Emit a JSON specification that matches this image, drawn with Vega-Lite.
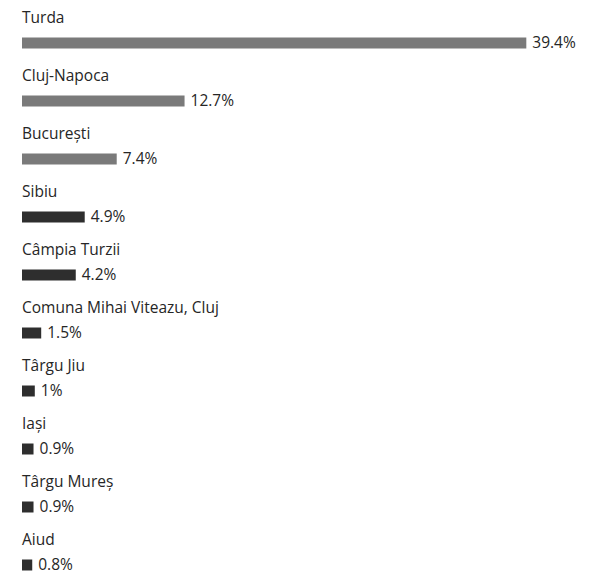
{
  "$schema": "https://vega.github.io/schema/vega-lite/v6.json",
  "width": 576,
  "height": 580,
  "autosize": {"type": "none"},
  "padding": {"left": 22, "top": 4, "right": 0, "bottom": 0},
  "background": "white",
  "config": {"view": {"stroke": null}, "font": "Open Sans"},
  "data": {
    "values": [
      {"city": "Turda", "pct": 0.394},
      {"city": "Cluj-Napoca", "pct": 0.127},
      {"city": "București", "pct": 0.074},
      {"city": "Sibiu", "pct": 0.049},
      {"city": "Câmpia Turzii", "pct": 0.042},
      {"city": "Comuna Mihai Viteazu, Cluj", "pct": 0.015},
      {"city": "Târgu Jiu", "pct": 0.01},
      {"city": "Iași", "pct": 0.009},
      {"city": "Târgu Mureș", "pct": 0.009},
      {"city": "Aiud", "pct": 0.008}
    ]
  },
  "encoding": {
    "y": {"field": "city", "type": "nominal", "sort": null, "axis": null,
          "scale": {"paddingInner": 0, "paddingOuter": 0}}
  },
  "layer": [
    {
      "mark": {"type": "bar", "height": 11, "yOffset": 10},
      "encoding": {
        "x": {"field": "pct", "type": "quantitative", "axis": null, "scale": {"domain": [0, 0.45]}},
        "color": {"condition": {"test": "datum.pct > 0.05", "value": "#7a7a7a"}, "value": "#2e2e2e"}
      }
    },
    {
      "mark": {"type": "text", "align": "left", "baseline": "middle", "dx": 6, "yOffset": 10, "fontSize": 15.5, "color": "#262626"},
      "encoding": {
        "x": {"field": "pct", "type": "quantitative"},
        "text": {"field": "pct", "type": "quantitative", "format": ".1~%"}
      }
    },
    {
      "mark": {"type": "text", "align": "left", "baseline": "middle", "x": 0, "yOffset": -15, "fontSize": 15.5, "color": "#262626"},
      "encoding": {
        "text": {"field": "city", "type": "nominal"}
      }
    }
  ]
}
